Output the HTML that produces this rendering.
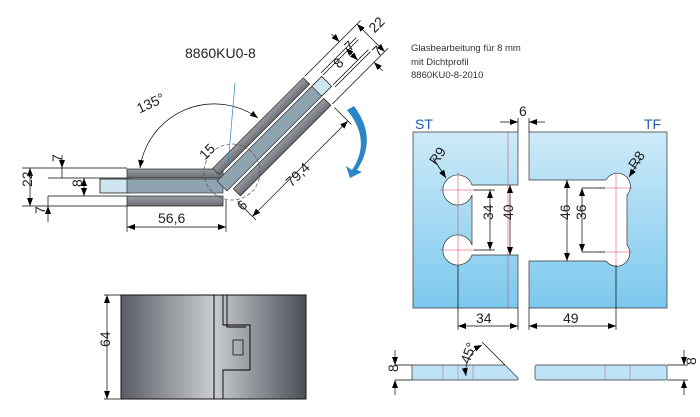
<!DOCTYPE html>
<html><head><meta charset="utf-8"><style>
html,body{margin:0;padding:0;background:#fff;}
svg{display:block;font-family:"Liberation Sans",sans-serif;}
</style></head><body>
<svg width="700" height="417" viewBox="0 0 700 417" xmlns="http://www.w3.org/2000/svg">
<defs>
<linearGradient id="met" x1="0" y1="0" x2="1" y2="0">
<stop offset="0" stop-color="#5a5d63"/><stop offset="0.5" stop-color="#c9ccd1"/><stop offset="1" stop-color="#4c4f55"/></linearGradient>
<linearGradient id="met2" x1="0" y1="0" x2="0" y2="1">
<stop offset="0" stop-color="#9a9da3"/><stop offset="1" stop-color="#6a6d72"/></linearGradient>
<linearGradient id="blu" x1="0" y1="0" x2="0" y2="1">
<stop offset="0" stop-color="#cdeaf8"/><stop offset="1" stop-color="#7cc8ee"/></linearGradient>
<marker id="ar" markerWidth="8" markerHeight="6" refX="8" refY="3" orient="auto-start-reverse" markerUnits="userSpaceOnUse"><path d="M0,0 L8,3 L0,6 z" fill="#000"/></marker>
</defs>
<g stroke="#000" stroke-width="0.7" fill="none">
<!-- horizontal arm -->
<rect x="100" y="179" width="30" height="14" fill="#cfe6f2"/>
<rect x="127" y="169" width="96" height="9" fill="url(#met2)" stroke="#222"/>
<rect x="127" y="179" width="96" height="14" fill="#8fa3b0" stroke="#333"/>
<rect x="127" y="196" width="96" height="10" fill="url(#met2)" stroke="#222"/>
<!-- angled arm -->
<g transform="translate(222,186) rotate(-45)">
<rect x="130" y="-7" width="18" height="14" fill="#cfe6f2"/>
<rect x="6" y="-19" width="128" height="9" fill="url(#met2)" stroke="#222"/>
<rect x="0" y="-7" width="134" height="14" fill="#8fa3b0" stroke="#333"/>
<rect x="6" y="10" width="128" height="10" fill="url(#met2)" stroke="#222"/>
<line x1="136" y1="-19" x2="215" y2="-19"/>
<line x1="150" y1="-10" x2="200" y2="-10"/>
<line x1="150" y1="-7" x2="200" y2="-7"/>
<line x1="150" y1="7" x2="200" y2="7"/>
<line x1="150" y1="10" x2="200" y2="10"/>
<line x1="136" y1="20" x2="215" y2="20"/>
<line x1="210" y1="-19" x2="210" y2="20" marker-start="url(#ar)" marker-end="url(#ar)"/>
<line x1="185" y1="-30" x2="185" y2="-19" marker-end="url(#ar)"/>
<line x1="185" y1="-10" x2="185" y2="7" marker-start="url(#ar)" marker-end="url(#ar)"/>
<line x1="195" y1="32" x2="195" y2="20" marker-end="url(#ar)"/>
<line x1="0" y1="22" x2="0" y2="48"/>
<line x1="135" y1="24" x2="135" y2="48"/>
<line x1="0" y1="43" x2="135" y2="43" marker-start="url(#ar)" marker-end="url(#ar)"/>
</g>
<circle cx="232" cy="172" r="28" stroke-dasharray="4,2" stroke="#555"/>
<path d="M140,168 A75,75 0 0 1 258,118" marker-start="url(#ar)" marker-end="url(#ar)"/>
<line x1="235" y1="83" x2="228" y2="165" stroke="#2a8ac0"/>
<!-- left dims -->
<line x1="22" y1="168" x2="127" y2="168"/><line x1="22" y1="206" x2="127" y2="206"/>
<line x1="30" y1="168" x2="30" y2="206" marker-start="url(#ar)" marker-end="url(#ar)"/>
<line x1="62" y1="155" x2="62" y2="168" marker-end="url(#ar)"/>
<line x1="62" y1="168" x2="62" y2="178"/>
<line x1="48" y1="178" x2="127" y2="178"/><line x1="48" y1="196" x2="127" y2="196"/>
<line x1="84" y1="178" x2="84" y2="196" marker-start="url(#ar)" marker-end="url(#ar)"/>
<line x1="48" y1="222" x2="48" y2="206" marker-end="url(#ar)"/>
<line x1="48" y1="196" x2="48" y2="206"/>
<!-- 56,6 -->
<line x1="127" y1="206" x2="127" y2="232"/><line x1="226" y1="200" x2="226" y2="232"/>
<line x1="127" y1="227" x2="226" y2="227" marker-start="url(#ar)" marker-end="url(#ar)"/>
<!-- hinge render -->
<rect x="121" y="295" width="185" height="104" fill="url(#met)" stroke="#111" stroke-width="1"/>
<line x1="214" y1="295" x2="214" y2="399" stroke-width="1"/>
<path d="M223,295 V325 H250 V370 H223 V399 M227,295 V327 H246" stroke-width="0.9"/>
<rect x="233" y="340" width="10" height="15"/>
<line x1="104" y1="295" x2="121" y2="295"/><line x1="104" y1="399" x2="121" y2="399"/>
<line x1="107" y1="295" x2="107" y2="399" marker-start="url(#ar)" marker-end="url(#ar)"/>
<!-- plates -->
<path d="M413,132 H518 V185 H472 A15,15 0 1 0 472,195 V245 A15,15 0 1 0 472,255 H518 V308 H413 Z" fill="url(#blu)" stroke="#333"/>
<path d="M529,132 H667 V308 H529 V261 H606 A13,13 0 1 0 627,245 V195 A13,13 0 1 0 606,180 H529 Z" fill="url(#blu)" stroke="#333"/>
<g stroke="#d04050" stroke-width="0.5"><line x1="508" y1="132" x2="508" y2="308"/><line x1="458" y1="172" x2="458" y2="268"/><line x1="440" y1="190" x2="476" y2="190"/><line x1="440" y1="250" x2="476" y2="250"/><line x1="616" y1="172" x2="616" y2="268"/><line x1="598" y1="188" x2="632" y2="188"/><line x1="598" y1="252" x2="632" y2="252"/></g>
<line x1="474" y1="190" x2="495" y2="190"/><line x1="474" y1="250" x2="495" y2="250"/>
<line x1="490" y1="190" x2="490" y2="250" marker-start="url(#ar)" marker-end="url(#ar)"/>
<line x1="510" y1="185" x2="510" y2="255" marker-start="url(#ar)" marker-end="url(#ar)"/>
<line x1="567" y1="180" x2="567" y2="261" marker-start="url(#ar)" marker-end="url(#ar)"/>
<line x1="582" y1="188" x2="582" y2="252" marker-start="url(#ar)" marker-end="url(#ar)"/>
<line x1="582" y1="188" x2="605" y2="188"/><line x1="582" y1="252" x2="605" y2="252"/>
<line x1="458" y1="265" x2="458" y2="330"/><line x1="518" y1="308" x2="518" y2="330"/><line x1="529" y1="308" x2="529" y2="330"/><line x1="616" y1="265" x2="616" y2="330"/>
<line x1="458" y1="326" x2="518" y2="326" marker-start="url(#ar)" marker-end="url(#ar)"/>
<line x1="529" y1="326" x2="616" y2="326" marker-start="url(#ar)" marker-end="url(#ar)"/>
<line x1="500" y1="122" x2="518" y2="122" marker-end="url(#ar)"/><line x1="545" y1="122" x2="529" y2="122" marker-end="url(#ar)"/>
<line x1="518" y1="118" x2="518" y2="132"/><line x1="529" y1="118" x2="529" y2="132"/>
<line x1="433" y1="158" x2="446" y2="178" marker-end="url(#ar)"/><line x1="641" y1="158" x2="629" y2="177" marker-end="url(#ar)"/>
<!-- strips -->
<path d="M412,365 H505 L518,378 Q519,380 516,380 H412 Z" fill="#bfe3f6" stroke="#333"/>
<rect x="535" y="365" width="132" height="15" rx="2" fill="#bfe3f6" stroke="#333"/>
<g stroke="#c05080" stroke-width="0.5"><line x1="443" y1="365" x2="443" y2="380"/><line x1="458" y1="365" x2="458" y2="380"/><line x1="473" y1="365" x2="473" y2="380"/><line x1="605" y1="365" x2="605" y2="380"/><line x1="630" y1="365" x2="630" y2="380"/></g>
<line x1="482" y1="342" x2="505" y2="365"/>
<path d="M482,345 A30,30 0 0 0 466,376" marker-start="url(#ar)" marker-end="url(#ar)"/>
<line x1="395" y1="365" x2="412" y2="365"/><line x1="395" y1="380" x2="412" y2="380"/>
<line x1="395" y1="350" x2="395" y2="365" marker-end="url(#ar)"/><line x1="395" y1="395" x2="395" y2="380" marker-end="url(#ar)"/>
<line x1="667" y1="365" x2="688" y2="365"/><line x1="667" y1="380" x2="688" y2="380"/>
<line x1="684" y1="350" x2="684" y2="365" marker-end="url(#ar)"/><line x1="684" y1="395" x2="684" y2="380" marker-end="url(#ar)"/>
</g>
<path d="M347,110 Q372,140 352,170 L346,166 L350,178 L362,172 L357,170 Q378,138 354,106 Z" fill="#2a86c4"/>
<g font-size="14" fill="#222">
<text x="185" y="58">8860KU0-8</text>
<text x="136" y="110" transform="rotate(-25 146 104)">135°</text>
<text x="285" y="182" transform="rotate(-45 295 177)">79,4</text>
<text x="158" y="223">56,6</text>
<text x="199" y="158" transform="rotate(-45 205 152)">15</text>
<text x="238" y="210" transform="rotate(-45 242 205)">6</text>
<text x="23" y="196" transform="rotate(-90 23 187)">22</text>
<text x="77" y="192" transform="rotate(-90 77 187)">8</text>
<text x="60" y="160" transform="rotate(-90 62 160)">7</text>
<text x="40" y="215" transform="rotate(-90 42 212)">7</text>
<text x="102" y="355" transform="rotate(-90 102 347)">64</text>
<text x="415" y="129" fill="#1f5fa8">ST</text>
<text x="644" y="129" fill="#1f5fa8">TF</text>
<text x="519" y="116">6</text>
<text x="476" y="323">34</text><text x="563" y="323">49</text>
<text x="486" y="227" transform="rotate(-90 486 220)">34</text>
<text x="506" y="227" transform="rotate(-90 506 220)">40</text>
<text x="563" y="227" transform="rotate(-90 563 220)">46</text>
<text x="579" y="227" transform="rotate(-90 579 220)">36</text>
<text x="428" y="162" transform="rotate(-55 436 156)">R9</text>
<text x="627" y="166" transform="rotate(-55 635 160)">R8</text>
<text x="459" y="362" transform="rotate(-70 466 356)">45°</text>
<text x="392" y="378" transform="rotate(-90 392 372)">8</text>
<text x="697" y="378" transform="rotate(-90 690 372)">8</text>
<text x="368" y="28" transform="rotate(-45 378 23)">22</text>
<text x="345" y="50" transform="rotate(-45 350 45)">7</text>
<text x="334" y="67" transform="rotate(-45 339 62)">8</text>
<text x="373" y="55" transform="rotate(-45 378 50)">7</text>
</g>
<g font-size="9.5" fill="#333">
<text x="411" y="51">Glasbearbeitung für 8 mm</text>
<text x="411" y="65">mit Dichtprofil</text>
<text x="411" y="78">8860KU0-8-2010</text>
</g>
</svg>
</body></html>
